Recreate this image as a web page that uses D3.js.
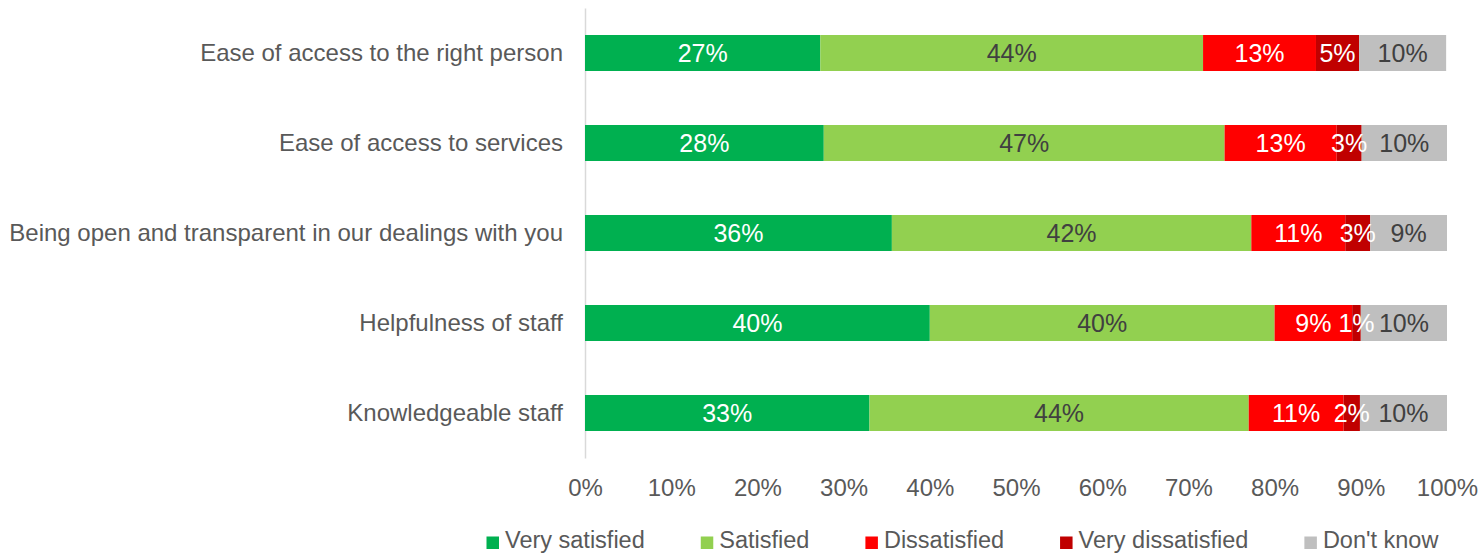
<!DOCTYPE html>
<html>
<head>
<meta charset="utf-8">
<script src="https://cdn.jsdelivr.net/npm/d3@7"></script>
<style>
  html, body { margin: 0; padding: 0; background: #fff; }
  svg { display: block; font-family: "Liberation Sans", Arial, sans-serif; }
</style>
</head>
<body>
<svg id="chart" width="1482" height="555"></svg>
<script>
// Survey questions (top to bottom)
const categories = [
  "Ease of access to the right person",
  "Ease of access to services",
  "Being open and transparent in our dealings with you",
  "Helpfulness of staff",
  "Knowledgeable staff"
];

// Response options, in stacking order
const seriesNames = ["Very satisfied", "Satisfied", "Dissatisfied", "Very dissatisfied", "Don't know"];

// Share of respondents (%) per question, one array per response option
const verySatisfied    = [27.3, 27.7, 35.6, 40.0, 33.0];
const satisfied        = [44.4, 46.5, 41.7, 40.0, 44.0];
const dissatisfied     = [13.1, 13.0, 10.9,  9.0, 11.0];
const veryDissatisfied = [ 5.0,  2.9,  2.9,  1.0,  1.9];
const dontKnow         = [10.1,  9.9,  8.9, 10.0, 10.1];

const tickValues = [0, 10, 20, 30, 40, 50, 60, 70, 80, 90, 100];

const seriesValues = [verySatisfied, satisfied, dissatisfied, veryDissatisfied, dontKnow];
const colors = ["#00B050", "#92D050", "#FF0000", "#C00000", "#BFBFBF"];
const labelColors = ["#FFFFFF", "#404040", "#FFFFFF", "#FFFFFF", "#404040"];

const rows = categories.map((c, i) => {
  const r = { category: c };
  seriesNames.forEach((s, j) => { r[s] = seriesValues[j][i]; });
  return r;
});

const stack = d3.stack().keys(seriesNames);
const layers = stack(rows);

const svg = d3.select("#chart");

const x = d3.scaleLinear().domain([0, 100]).range([585, 1447]);
const y = d3.scaleBand().domain(categories).range([8, 458])
  .paddingInner(0.6).paddingOuter(0.3);

// Category axis with its thin grey baseline
const yAxis = svg.append("g")
  .attr("transform", `translate(${x(0)},0)`)
  .call(d3.axisLeft(y).tickSize(0).tickSizeOuter(0).tickPadding(22));
yAxis.select(".domain").attr("stroke", "#D9D9D9").attr("stroke-width", 1.5);
yAxis.selectAll("text")
  .attr("fill", "#595959")
  .style("font-size", "24px")
  .attr("dy", "0.35em");

// Stacked bars
const layerG = svg.append("g").selectAll("g")
  .data(layers)
  .join("g")
  .attr("fill", (d, i) => colors[i]);

layerG.selectAll("rect")
  .data(d => d)
  .join("rect")
  .attr("x", d => x(d[0]))
  .attr("y", d => y(d.data.category))
  .attr("width", d => x(d[1]) - x(d[0]))
  .attr("height", y.bandwidth());

// Value labels centred in each segment
const fmt = v => Math.round(v) + "%";
svg.append("g").selectAll("g")
  .data(layers)
  .join("g")
  .attr("fill", (d, i) => labelColors[i])
  .selectAll("text")
  .data(d => d.map(p => ({ p, key: d.key })))
  .join("text")
  .attr("x", d => (x(d.p[0]) + x(d.p[1])) / 2)
  .attr("y", d => y(d.p.data.category) + y.bandwidth() / 2)
  .attr("dy", "0.35em")
  .attr("text-anchor", "middle")
  .style("font-size", "25px")
  .text(d => fmt(d.p.data[d.key]));

// Percentage axis
const xAxis = svg.append("g")
  .attr("transform", "translate(0,458)")
  .call(d3.axisBottom(x).tickValues(tickValues).tickSize(0).tickPadding(21)
    .tickFormat(d => d + "%"));
xAxis.select(".domain").remove();
xAxis.selectAll("text")
  .attr("fill", "#595959")
  .style("font-size", "24px");

// Legend
const legend = svg.append("g").attr("transform", "translate(486.5,0)");
let lx = 0;
seriesNames.forEach((name, i) => {
  const item = legend.append("g").attr("transform", `translate(${lx},0)`);
  item.append("rect")
    .attr("x", 0).attr("y", 536.5)
    .attr("width", 12.5).attr("height", 12.5)
    .attr("fill", colors[i]);
  const t = item.append("text")
    .attr("x", 18.5).attr("y", 548)
    .attr("fill", "#595959")
    .style("font-size", "23.5px")
    .text(name);
  lx += 18.5 + t.node().getComputedTextLength() + 56;
});
</script>
</body>
</html>
